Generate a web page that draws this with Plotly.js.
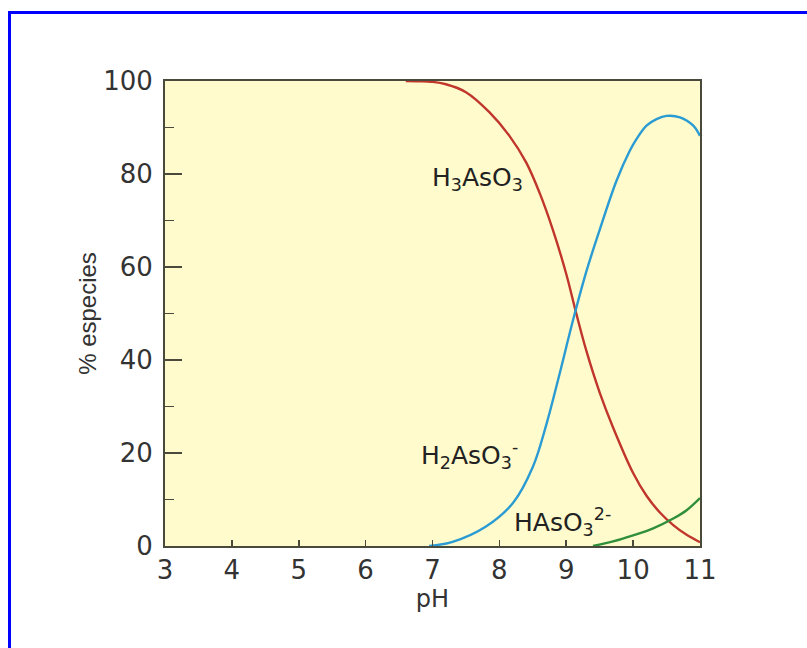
<!DOCTYPE html>
<html>
<head>
<meta charset="utf-8">
<script src="https://cdn.plot.ly/plotly-3.0.1.min.js"></script>
<style>
  html, body { margin: 0; padding: 0; background: #ffffff; overflow: hidden; width: 807px; height: 648px; }
  #frame { position: absolute; left: 8px; top: 11px; width: 810px; height: 650px;
           border-left: 3px solid #0000ff; border-top: 3px solid #0000ff; box-sizing: border-box; pointer-events: none; }
  #plot { position: absolute; left: 0; top: 0; width: 807px; height: 648px; }
</style>
</head>
<body>
<div id="plot"></div>
<div id="frame"></div>
<script>
// pH values and % species
const phH3 = [6.6, 6.8, 7.0, 7.2, 7.5, 7.85, 8.15, 8.4, 8.6, 8.8, 9.0, 9.15, 9.3, 9.5, 9.7, 10.0, 10.2, 10.4, 10.6, 10.8, 11.0];
const valH3 = [100, 99.95, 99.8, 99.3, 97.6, 93.3, 88.2, 82.5, 76, 68, 58.5, 50, 42, 33, 25.5, 15.7, 10.8, 7.2, 4.5, 2.4, 0.8];

const phH2 = [6.95, 7.3, 7.8, 8.2, 8.5, 8.7, 8.9, 9.1, 9.3, 9.5, 9.75, 9.95, 10.05, 10.2, 10.35, 10.5, 10.7, 10.9, 11.0];
const valH2 = [0, 0.9, 4.2, 9.2, 17, 26, 37, 48.5, 59, 68, 78.5, 85, 87.5, 90.4, 91.8, 92.5, 92.2, 90.4, 88.2];

const phH1 = [9.4, 9.7, 10.0, 10.3, 10.6, 10.8, 11.0];
const valH1 = [0, 1.0, 2.3, 3.8, 5.9, 7.7, 10.3];

const xTickVals = [3, 4, 5, 6, 7, 8, 9, 10, 11];
const xMajorTickVals = [4, 6, 8, 10];
const yTickVals = [0, 20, 40, 60, 80, 100];

const labelH3 = 'H<sub>3</sub>AsO<sub>3</sub>';
const labelH2 = 'H<sub>2</sub>AsO<sub>3</sub><sup>-</sup>';
const labelH1 = 'HAsO<sub>3</sub><sup>2-</sup>';
const xTitle = 'pH';
const yTitle = '% especies';

const lineCol = '#4a4a3c';
const wideFont = 'DejaVu Sans, Verdana, sans-serif';
const narrowFont = 'Liberation Sans, Arial, sans-serif';

const traces = [
  {x: phH3, y: valH3, type: 'scatter', mode: 'lines', line: {color: '#c0362c', width: 2.4, shape: 'spline', smoothing: 1}, name: 'H3AsO3', hoverinfo: 'skip'},
  {x: phH2, y: valH2, type: 'scatter', mode: 'lines', line: {color: '#2b9bd3', width: 2.4, shape: 'spline', smoothing: 1}, name: 'H2AsO3-', hoverinfo: 'skip'},
  {x: phH1, y: valH1, type: 'scatter', mode: 'lines', line: {color: '#2f8f3a', width: 2.4, shape: 'spline', smoothing: 1}, name: 'HAsO3 2-', hoverinfo: 'skip'}
];

const layout = {
  width: 807, height: 648,
  margin: {l: 165, r: 107, t: 81, b: 102, pad: 0},
  paper_bgcolor: 'rgba(0,0,0,0)',
  plot_bgcolor: '#fffbcc',
  showlegend: false,
  font: {family: wideFont, color: '#333333'},
  xaxis: {
    range: [3, 11], tickmode: 'array', tickvals: xTickVals,
    ticks: 'inside', ticklen: 6, tickwidth: 1.6, tickcolor: lineCol,
    showline: true, linecolor: lineCol, linewidth: 2, mirror: true,
    showgrid: false, zeroline: false,
    tickfont: {family: wideFont, size: 26, color: '#333333'},
    title: {text: xTitle, font: {family: wideFont, size: 24, color: '#333333'}, standoff: 6}
  },
  xaxis2: {
    range: [3, 11], overlaying: 'x', matches: 'x', side: 'bottom', anchor: 'y',
    tickmode: 'array', tickvals: xMajorTickVals, ticks: 'inside', ticklen: 15, tickwidth: 1.6, tickcolor: lineCol,
    showticklabels: false, showline: false, showgrid: false, zeroline: false
  },
  yaxis: {
    range: [0, 100], tickmode: 'array', tickvals: yTickVals,
    ticks: 'inside', ticklen: 17, tickwidth: 1.6, tickcolor: lineCol,
    minor: {dtick: 10, tick0: 0, ticks: 'inside', ticklen: 9, tickwidth: 1.6, tickcolor: lineCol, showgrid: false},
    showline: true, linecolor: lineCol, linewidth: 2, mirror: true,
    showgrid: false, zeroline: false, ticklabelstandoff: 5,
    tickfont: {family: wideFont, size: 26, color: '#333333'},
    title: {text: yTitle, font: {family: narrowFont, size: 24, color: '#333333'}, standoff: 0}
  },
  annotations: [
    {x: 7.67, y: 79, xref: 'x', yref: 'y', text: labelH3, showarrow: false, font: {family: wideFont, size: 25, color: '#222222'}},
    {x: 7.56, y: 19.6, xref: 'x', yref: 'y', text: labelH2, showarrow: false, font: {family: wideFont, size: 25, color: '#222222'}},
    {x: 8.95, y: 5.2, xref: 'x', yref: 'y', text: labelH1, showarrow: false, font: {family: wideFont, size: 25, color: '#222222'}}
  ]
};

Plotly.newPlot('plot', traces, layout, {staticPlot: true, displayModeBar: false}).then(function (gd) {
  // give sub/superscript pieces an explicit pixel font size
  gd.querySelectorAll('text').forEach(function (t) {
    const base = parseFloat(window.getComputedStyle(t).fontSize) || 25;
    t.querySelectorAll('tspan').forEach(function (s) {
      const fs = s.style.fontSize;
      if (fs && fs.indexOf('%') > -1) {
        s.style.fontSize = (base * parseFloat(fs) / 100).toFixed(1) + 'px';
      }
    });
  });
});
</script>
</body>
</html>
